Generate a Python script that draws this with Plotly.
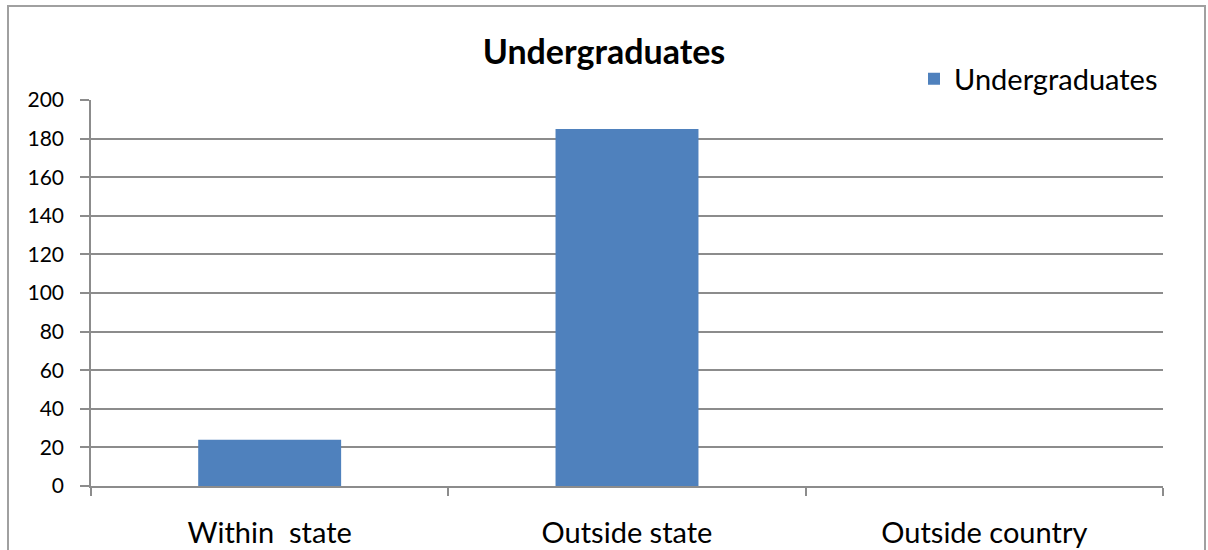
import plotly.graph_objects as go

categories = ["Within\u00a0 state", "Outside state", "Outside country"]
values = [24, 185, 0]
series_name = "Undergraduates"
y_ticks = [0, 20, 40, 60, 80, 100, 120, 140, 160, 180, 200]

FONT = "Lato, Open Sans, sans-serif"
GRID = "#8c8c8c"

fig = go.Figure()
fig.add_trace(go.Bar(
    x=categories, y=values, name=series_name,
    marker=dict(color="#4f81bd", line=dict(width=0)),
    width=0.4, showlegend=True,
))

W, H = 1208, 550
L, R, T, B = 91, 45, 100, 64
pw, ph = W - L - R, H - T - B

def px_to_paper_x(px):
    return (px - L) / pw

def px_to_paper_y(py):
    return (H - B - py) / ph

fig.update_layout(
    width=W, height=H,
    margin=dict(l=L, r=R, t=T, b=B, autoexpand=False),
    paper_bgcolor="white", plot_bgcolor="white",
    font=dict(family=FONT, color="#000000"),
    title=dict(text="<b>Undergraduates</b>", x=0.5, xanchor="center",
               y=1 - 52 / H, yanchor="middle",
               font=dict(size=34, family=FONT, color="#000000")),
    legend=dict(x=1, xanchor="right", y=px_to_paper_y(79), yanchor="middle",
                font=dict(size=29, family=FONT), bgcolor="rgba(0,0,0,0)",
                itemwidth=30),
    bargap=0.6,
    xaxis=dict(
        type="category", automargin=False,
        showline=True, linecolor=GRID, linewidth=1.5,
        ticks="outside", tickson="boundaries", ticklen=8, tickcolor=GRID, tickwidth=1.5,
        tickfont=dict(size=29, family=FONT, color="#000000"),
        ticklabelstandoff=20,
        showgrid=False, fixedrange=True,
    ),
    yaxis=dict(
        range=[0, 200], tickvals=y_ticks, automargin=False,
        showline=True, linecolor=GRID, linewidth=1.5,
        ticks="outside", ticklen=9, tickcolor=GRID, tickwidth=1.5,
        showgrid=True, gridcolor=GRID, gridwidth=1.5,
        tickfont=dict(size=21, family=FONT, color="#000000"),
        ticklabelstandoff=12,
        zeroline=False, fixedrange=True,
    ),
)

fig.add_shape(type="rect", xref="paper", yref="paper",
              x0=px_to_paper_x(8), x1=px_to_paper_x(1205),
              y0=px_to_paper_y(560), y1=px_to_paper_y(6),
              line=dict(color="#a0a0a0", width=2), fillcolor="rgba(0,0,0,0)",
              layer="below")

fig.write_html("out.html", config={"displayModeBar": False},
               post_script="document.body.style.margin='0';document.body.style.overflow='hidden';")
